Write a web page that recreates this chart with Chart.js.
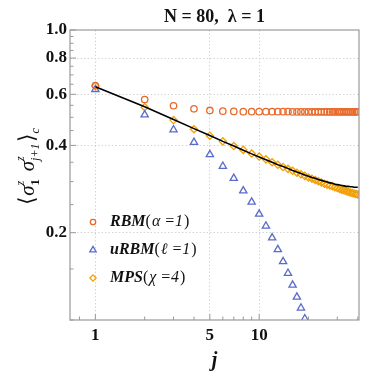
<!DOCTYPE html>
<html>
<head>
<meta charset="utf-8">
<script src="https://cdn.jsdelivr.net/npm/chart.js@4.4.1/dist/chart.umd.min.js"></script>
<style>
  html, body { margin: 0; padding: 0; background: #fff; }
  #wrap { width: 390px; height: 375px; }
</style>
</head>
<body>
<div id="wrap"><canvas id="myChart" width="390" height="375"></canvas></div>
<script>
// site index j
const jVals = [1, 2, 3, 4, 5, 6, 7, 8, 9, 10, 11, 12, 13, 14, 15, 16, 17, 18, 19, 20,
               21, 22, 23, 24, 25, 26, 27, 28, 29, 30, 31, 32, 33, 34, 35, 36, 37, 38, 39, 40];

// RBM(alpha=1)
const rbm = [0.643, 0.576, 0.548, 0.535, 0.528, 0.525, 0.524, 0.523, 0.523, 0.523,
             0.523, 0.523, 0.523, 0.523, 0.523, 0.522, 0.522, 0.522, 0.522, 0.522,
             0.522, 0.522, 0.522, 0.522, 0.522, 0.522, 0.522, 0.522, 0.522, 0.522,
             0.522, 0.522, 0.522, 0.522, 0.522, 0.522, 0.522, 0.522, 0.522, 0.522];

// uRBM(l=1), only the first 19 sites are inside the plot
const urbm = [0.624, 0.510, 0.453, 0.410, 0.372, 0.339, 0.308, 0.279, 0.255, 0.232,
              0.211, 0.192, 0.175, 0.159, 0.145, 0.132, 0.120, 0.110, 0.101];

// MPS(chi=4)
const mps = [0.641, 0.542, 0.489, 0.455, 0.432, 0.413, 0.398, 0.386, 0.375, 0.366,
             0.358, 0.350, 0.343, 0.337, 0.332, 0.327, 0.322, 0.318, 0.314, 0.310,
             0.307, 0.304, 0.301, 0.298, 0.295, 0.293, 0.291, 0.289, 0.287, 0.285,
             0.283, 0.281, 0.280, 0.278, 0.277, 0.275, 0.274, 0.273, 0.272, 0.271];

// exact result (black line)
const exact = [0.637, 0.544, 0.491, 0.457, 0.433, 0.413, 0.398, 0.385, 0.374, 0.365,
               0.357, 0.350, 0.343, 0.338, 0.333, 0.328, 0.324, 0.320, 0.316, 0.313,
               0.310, 0.308, 0.305, 0.303, 0.301, 0.299, 0.297, 0.296, 0.294, 0.293,
               0.292, 0.291, 0.290, 0.289, 0.289, 0.288, 0.288, 0.287, 0.287, 0.287];

// ticks
const xMajor = [1, 5, 10];
const xMinor = [0.8, 2, 3, 4, 6, 7, 8, 9, 20, 30, 40];
const yMajor = [0.2, 0.4, 0.6, 0.8, 1.0];
const yMinor = [0.1, 0.15, 0.25, 0.3, 0.35, 0.45, 0.5, 0.55, 0.65, 0.7, 0.75, 0.85, 0.9, 0.95];

const titleText = "N = 80,  \u03bb = 1";
const legendRows = [
  { name: "RBM", arg: "\u03b1 =1", ds: 1 },
  { name: "uRBM", arg: "\u2113 =1", ds: 2 },
  { name: "MPS", arg: "\u03c7 =4", ds: 3 }
];

const SERIF = "'Liberation Serif', 'Times New Roman', serif";
const FRAME = "#9a9a9a";

const toPts = (vals) => vals.map((v, i) => ({ x: jVals[i], y: v }));

// frame + inward tick marks
const framePlugin = {
  id: "frame",
  afterDatasetsDraw(chart) {
    const { ctx, chartArea: a, scales } = chart;
    ctx.save();
    ctx.strokeStyle = FRAME;
    ctx.lineWidth = 1;
    const tick = (x1, y1, x2, y2) => {
      ctx.beginPath(); ctx.moveTo(x1, y1); ctx.lineTo(x2, y2); ctx.stroke();
    };
    xMajor.forEach(v => { const x = scales.x.getPixelForValue(v); tick(x, a.bottom, x, a.bottom - 6); });
    xMinor.forEach(v => { const x = scales.x.getPixelForValue(v); tick(x, a.bottom, x, a.bottom - 3.5); });
    yMajor.forEach(v => { const y = scales.y.getPixelForValue(v); tick(a.left, y, a.left + 6, y); });
    yMinor.forEach(v => { const y = scales.y.getPixelForValue(v); tick(a.left, y, a.left + 3.5, y); });
    ctx.lineWidth = 1.2;
    ctx.strokeRect(a.left, a.top, a.right - a.left, a.bottom - a.top);
    ctx.restore();
  }
};

// legend inside the plot
const legendPlugin = {
  id: "innerLegend",
  afterDraw(chart) {
    const { ctx } = chart;
    ctx.save();
    legendRows.forEach((row, k) => {
      const ds = chart.data.datasets[row.ds];
      const y = 222 + k * 28;
      ctx.strokeStyle = ds.borderColor;
      ctx.fillStyle = "rgba(0,0,0,0)";
      ctx.lineWidth = ds.pointBorderWidth;
      Chart.helpers.drawPoint(ctx, { pointStyle: ds.pointStyle, radius: ds.pointRadius - 0.5, borderWidth: ds.pointBorderWidth, rotation: 0 }, 93, y);
      ctx.fillStyle = "#111";
      ctx.textBaseline = "middle";
      let x = 110;
      ctx.font = "italic bold 16px " + SERIF;
      ctx.fillText(row.name, x, y); x += ctx.measureText(row.name).width;
      ctx.font = "16px " + SERIF;
      ctx.fillText("(", x, y); x += ctx.measureText("(").width + 1;
      ctx.font = "italic 16px " + SERIF;
      ctx.fillText(row.arg, x, y); x += ctx.measureText(row.arg).width + 1;
      ctx.font = "16px " + SERIF;
      ctx.fillText(")", x, y);
    });
    ctx.restore();
  }
};

// rotated y label <sigma_1^z sigma_{j+1}^z>_c
const yLabelPlugin = {
  id: "yLabel",
  afterDraw(chart) {
    const { ctx } = chart;
    ctx.save();
    ctx.translate(27, 166);
    ctx.rotate(-Math.PI / 2);
    ctx.fillStyle = "#111";
    ctx.textBaseline = "alphabetic";
    const big = "italic 21px " + SERIF;
    const small = "italic 12px " + SERIF;
    const parts = [
      { t: "\u27e8", f: "22px " + SERIF },
      { t: "\u03c3", f: big, sup: "z", sub: "1", subUp: true },
      { t: " ", f: big },
      { t: "\u03c3", f: big, sup: "z", sub: "j+1" },
      { t: "\u27e9", f: "22px " + SERIF, sub: "c" }
    ];
    // measure first to center
    const widthOf = (p) => {
      ctx.font = p.f; let w = ctx.measureText(p.t).width;
      let e = 0;
      ctx.font = small;
      if (p.sup) e = Math.max(e, ctx.measureText(p.sup).width);
      if (p.sub) e = Math.max(e, ctx.measureText(p.sub).width + (p.subUp ? 2 : 0));
      return w + e + (e ? 1 : 0);
    };
    const total = parts.reduce((s, p) => s + widthOf(p), 0);
    let x = -total / 2;
    const base = 7;
    parts.forEach(p => {
      ctx.font = p.f;
      ctx.fillText(p.t, x, base);
      const w = ctx.measureText(p.t).width;
      ctx.font = small;
      if (p.sup) ctx.fillText(p.sup, x + w, base - 10);
      if (p.sub) {
        if (p.subUp) ctx.font = "bold 13px " + SERIF;
        ctx.fillText(p.sub, x + w, base + 5);
      }
      x += widthOf(p);
    });
    ctx.restore();
  }
};

const ctx = document.getElementById("myChart").getContext("2d");
const myChart = new Chart(ctx, {
  type: "scatter",
  data: {
    datasets: [
      {
        label: "exact",
        data: toPts(exact),
        showLine: true,
        borderColor: "#000",
        borderWidth: 1.6,
        pointRadius: 0,
        tension: 0
      },
      {
        label: "RBM(\u03b1=1)",
        data: toPts(rbm),
        borderColor: "#e86a2b",
        backgroundColor: "rgba(0,0,0,0)",
        pointStyle: "circle",
        pointRadius: 3.2,
        pointBorderWidth: 1.3
      },
      {
        label: "uRBM(\u2113=1)",
        data: toPts(urbm),
        borderColor: "#5b6cc8",
        backgroundColor: "rgba(0,0,0,0)",
        pointStyle: "triangle",
        pointRadius: 4.2,
        pointBorderWidth: 1.3
      },
      {
        label: "MPS(\u03c7=4)",
        data: toPts(mps),
        borderColor: "#f2a007",
        backgroundColor: "rgba(0,0,0,0)",
        pointStyle: "rectRot",
        pointRadius: 3.6,
        pointBorderWidth: 1.3
      }
    ]
  },
  options: {
    responsive: false,
    animation: false,
    events: [],
    clip: 0,
    layout: { padding: { left: 0, right: 31, top: 0, bottom: 0 } },
    plugins: {
      legend: { display: false },
      tooltip: { enabled: false },
      title: {
        display: true,
        text: titleText,
        fullSize: false,
        color: "#111",
        font: { family: SERIF, size: 18, weight: "bold", lineHeight: 1.2 },
        padding: { top: 7, bottom: 1.4 }
      }
    },
    scales: {
      x: {
        type: "logarithmic",
        min: 0.74,
        max: 40.7,
        afterBuildTicks: (s) => { s.ticks = xMajor.concat(xMinor).map(v => ({ value: v })); },
        afterFit: (s) => { s.height = 55; },
        ticks: {
          autoSkip: false,
          maxRotation: 0,
          padding: 5,
          color: "#111",
          font: { family: SERIF, size: 17, weight: "bold" },
          callback: (v) => xMajor.includes(v) ? String(v) : ""
        },
        grid: {
          drawTicks: false,
          color: (c) => (c.tick && xMajor.includes(c.tick.value)) ? "#d4d4d4" : "rgba(0,0,0,0)",
          lineWidth: 1
        },
        border: { display: false, dash: [1.5, 2] },
        title: {
          display: true,
          text: "j",
          color: "#111",
          font: { family: SERIF, size: 20, weight: "bold", style: "italic" },
          padding: { top: 0, bottom: 2 }
        }
      },
      y: {
        type: "logarithmic",
        min: 0.1,
        max: 1.0,
        afterBuildTicks: (s) => { s.ticks = yMajor.concat(yMinor).sort((a, b) => a - b).map(v => ({ value: v })); },
        afterFit: (s) => { s.width = 70; },
        ticks: {
          autoSkip: false,
          padding: 3,
          color: "#111",
          font: { family: SERIF, size: 17, weight: "bold" },
          callback: (v) => yMajor.includes(v) ? v.toFixed(1) : ""
        },
        grid: {
          drawTicks: false,
          color: (c) => (c.tick && yMajor.includes(c.tick.value) && c.tick.value < 1) ? "#d4d4d4" : "rgba(0,0,0,0)",
          lineWidth: 1
        },
        border: { display: false, dash: [1.5, 2] }
      }
    }
  },
  plugins: [framePlugin, legendPlugin, yLabelPlugin]
});
</script>
</body>
</html>
